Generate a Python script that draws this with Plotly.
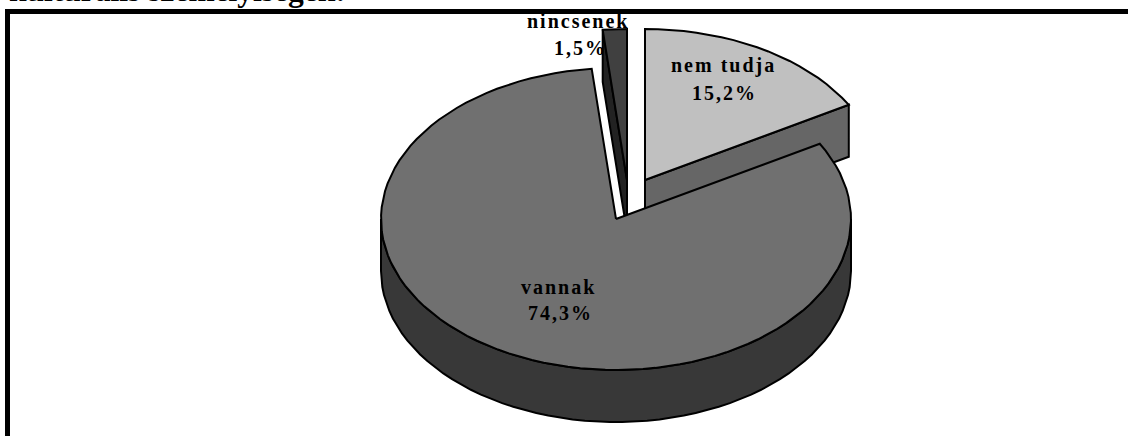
import numpy as np
import plotly.graph_objects as go

# --- data ---
categories = ["nem tudja", "vannak", "nincsenek"]
values = [15.2, 74.3, 1.5]
value_labels = ["15,2%", "74,3%", "1,5%"]
title_text = "kulturális személyiségek:"

# --- style ---
top_colors = ["#c0c0c0", "#707070", "#404040"]
side_colors = ["#666666", "#383838", "#222222"]
FONT = "Liberation Serif"
W, H = 1128, 436
RX, RY, DEPTH = 235, 151, 52
centers = [(645, 180), (616, 219), (627, 180)]
name_pos = [(723, 65), (558, 287), (578, 21)]
value_pos = [(724, 93), (560, 313), (580, 48)]

starts = np.cumsum([0] + values[:-1]) / sum(values) * 360
sweeps = np.array(values) / sum(values) * 360


def pt(c, deg):
    a = np.radians(deg)
    return c[0] + RX * np.sin(a), c[1] - RY * np.cos(a)


def arc(c, a0, a1):
    n = max(2, int(abs(a1 - a0) / 3))
    return pt(c, np.linspace(a0, a1, n))


def poly(xs, ys, color):
    return go.Scatter(
        x=list(xs), y=list(ys), mode="lines", fill="toself", fillcolor=color,
        line=dict(color="black", width=2), hoverinfo="skip", showlegend=False,
    )


traces = []
# nincsenek (drawn first, behind the rest)
c = centers[2]
a0, a1 = starts[2], starts[2] + sweeps[2]
px, py = pt(c, a0)
traces.append(poly([c[0], px, px, c[0], c[0]],
                   [c[1], py, py + DEPTH, c[1] + DEPTH, c[1]], side_colors[2]))
ax, ay = arc(c, a0, a1)
traces.append(poly([c[0], *ax, c[0]], [c[1], *ay, c[1]], top_colors[2]))

# nem tudja
c = centers[0]
a0, a1 = starts[0], starts[0] + sweeps[0]
px, py = pt(c, a1)
traces.append(poly([c[0], px, px, c[0], c[0]],
                   [c[1], py, py + DEPTH, c[1] + DEPTH, c[1]], side_colors[0]))
ax, ay = arc(c, a0, a1)
traces.append(poly([c[0], *ax, c[0]], [c[1], *ay, c[1]], top_colors[0]))

# vannak
c = centers[1]
a0, a1 = starts[1], starts[1] + sweeps[1]
ax, ay = arc(c, 90, 270)
traces.append(poly([*ax, *ax[::-1], ax[0]],
                   [*ay, *(ay[::-1] + DEPTH), ay[0]], side_colors[1]))
ax, ay = arc(c, a0, a1)
traces.append(poly([c[0], *ax, c[0]], [c[1], *ay, c[1]], top_colors[1]))

fig = go.Figure(traces)

for text, (lx, ly) in zip(categories + value_labels, name_pos + value_pos):
    fig.add_annotation(
        x=lx, y=ly, xref="x", yref="y", showarrow=False, align="center",
        text=f'<span style="letter-spacing:2px">{text}</span>',
        font=dict(family=FONT, size=20, color="black", weight="bold"),
        xanchor="center", yanchor="middle",
    )

fig.add_annotation(
    x=7, y=6, xref="x", yref="y", showarrow=False, text=title_text,
    font=dict(family=FONT, size=31.5, color="black", weight="bold"),
    xanchor="left", yanchor="bottom", yshift=-4,
)

frame = dict(type="rect", xref="x", yref="y", fillcolor="black", line_width=0)
fig.update_layout(
    width=W, height=H, margin=dict(l=0, r=0, t=0, b=0),
    paper_bgcolor="white", plot_bgcolor="white", showlegend=False,
    xaxis=dict(range=[0, W], visible=False, fixedrange=True),
    yaxis=dict(range=[H, 0], visible=False, fixedrange=True),
    shapes=[
        dict(frame, x0=5, x1=W, y0=9, y1=14),
        dict(frame, x0=5, x1=10, y0=9, y1=H),
    ],
)
fig.write_html("out.html", config=dict(displayModeBar=False),
               post_script="document.body.style.margin='0';document.body.style.overflow='hidden';")
